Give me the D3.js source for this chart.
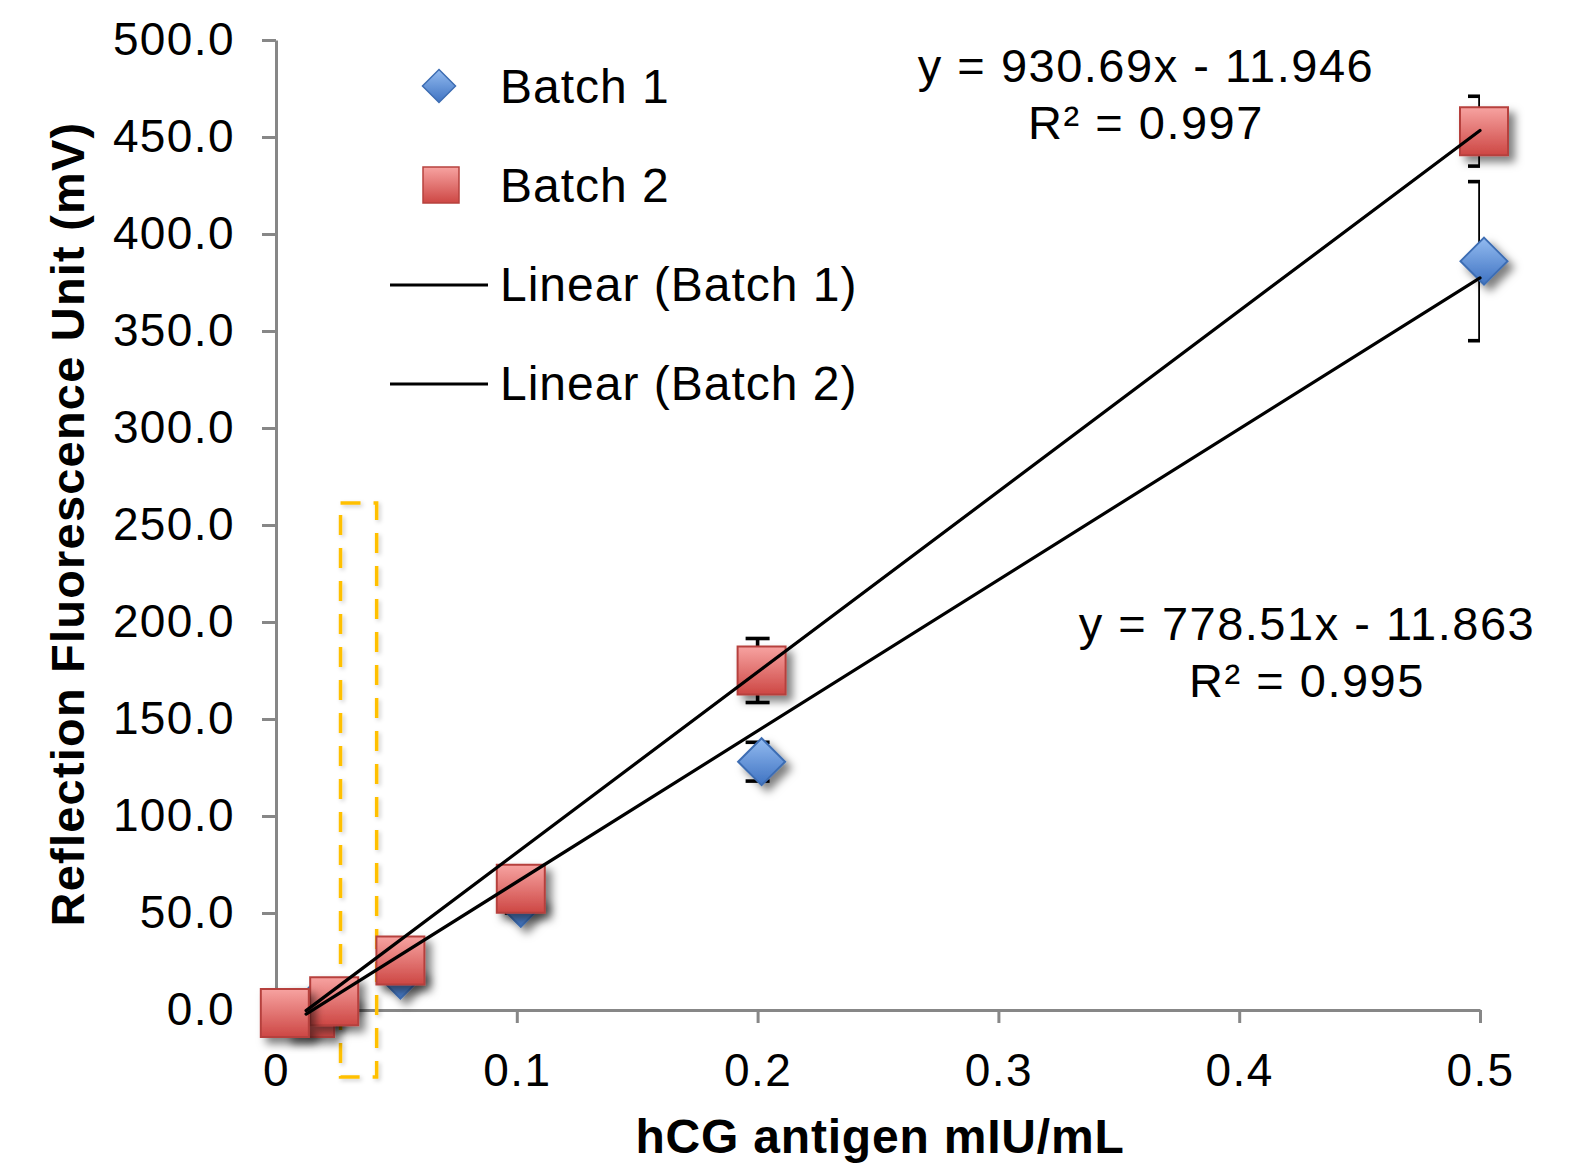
<!DOCTYPE html>
<html>
<head>
<meta charset="utf-8">
<script src="https://cdn.jsdelivr.net/npm/d3@7"></script>
<style>
  html, body { margin: 0; padding: 0; background: #fff; overflow: hidden; }
  svg { display: block; }
  svg text { font-family: "Liberation Sans", Arial, sans-serif; fill: #000; }
</style>
</head>
<body>
<svg width="1588" height="1165"></svg>
<script>
const concentrations = [0.0125, 0.0225, 0.05, 0.1, 0.2, 0.5];
const batch1 = [0, 4, 18, 55, 128, 386];
const batch1Err = [2, 2, 3, 5, 10, 41];
const batch2 = [-1.5, 4.5, 25.5, 62.5, 175, 453];
const batch2Err = [2, 2, 4, 6, 16.5, 18];
const zeroX = [0.002];
const zeroY = [-1.5];
const fitSlopes = [778.51, 930.69];
const fitIntercepts = [-11.863, -11.946];
const fitRange = [0.0125, 0.5];
const equationLines = [
  ["y = 778.51x - 11.863", "R² = 0.995"],
  ["y = 930.69x - 11.946", "R² = 0.997"]
];
const xTickValues = [0, 0.1, 0.2, 0.3, 0.4, 0.5];
const yTickValues = [0, 50, 100, 150, 200, 250, 300, 350, 400, 450, 500];
const legendLabels = ["Batch 1", "Batch 2", "Linear (Batch 1)", "Linear (Batch 2)"];
const highlightX = [0.0268, 0.0418];
const highlightY = [-34.5, 261.3];

const margin = { left: 276, right: 108, top: 40, bottom: 155 };
const svg = d3.select("svg");
const width = +svg.attr("width");
const height = +svg.attr("height");
const innerWidth = width - margin.left - margin.right;
const innerHeight = height - margin.top - margin.bottom;
// excel draws its markers a few px right of the true point
const markerNudge = 4;

svg.append("rect").attr("width", width).attr("height", height).attr("fill", "#fff");

const defs = svg.append("defs");
const shadow = defs.append("filter").attr("id", "shadow")
  .attr("x", "-50%").attr("y", "-50%").attr("width", "200%").attr("height", "200%");
shadow.append("feDropShadow")
  .attr("dx", 6).attr("dy", 6).attr("stdDeviation", 4)
  .attr("flood-color", "#000").attr("flood-opacity", 0.5);
const softShadow = defs.append("filter").attr("id", "soft-shadow")
  .attr("x", "-50%").attr("y", "-10%").attr("width", "200%").attr("height", "120%");
softShadow.append("feDropShadow")
  .attr("dx", 2).attr("dy", 2).attr("stdDeviation", 2)
  .attr("flood-color", "#000").attr("flood-opacity", 0.2);

const redGrad = defs.append("linearGradient").attr("id", "red-grad")
  .attr("x1", 0).attr("y1", 0).attr("x2", 0).attr("y2", 1);
redGrad.append("stop").attr("offset", "0%").attr("stop-color", "#F7A3A1");
redGrad.append("stop").attr("offset", "100%").attr("stop-color", "#CD4744");
const blueGrad = defs.append("linearGradient").attr("id", "blue-grad")
  .attr("x1", 0).attr("y1", 0).attr("x2", 0).attr("y2", 1);
blueGrad.append("stop").attr("offset", "0%").attr("stop-color", "#93BBF0");
blueGrad.append("stop").attr("offset", "100%").attr("stop-color", "#3F73C2");

defs.append("clipPath").attr("id", "plot-clip")
  .append("rect").attr("x", 0).attr("y", -margin.top).attr("width", innerWidth).attr("height", innerHeight + margin.top);

const diamondType = {
  draw(ctx, size) {
    const r = Math.sqrt(size / 2);
    ctx.moveTo(0, -r);
    ctx.lineTo(r, 0);
    ctx.lineTo(0, r);
    ctx.lineTo(-r, 0);
    ctx.closePath();
  }
};
const diamondPath = size => d3.symbol().type(diamondType).size(size)();
const squarePath = size => d3.symbol().type(d3.symbolSquare).size(size)();

const g = svg.append("g").attr("transform", `translate(${margin.left},${margin.top})`);

const xScale = d3.scaleLinear().domain([0, 0.5]).range([0, innerWidth]);
const yScale = d3.scaleLinear().domain([0, 500]).range([innerHeight, 0]);

const xAxis = d3.axisBottom(xScale)
  .tickValues(xTickValues)
  .tickFormat(d => (d === 0 ? "0" : d3.format(".1f")(d)))
  .tickSize(13)
  .tickSizeOuter(0)
  .tickPadding(30);
const yAxis = d3.axisLeft(yScale)
  .tickValues(yTickValues)
  .tickFormat(d3.format(".1f"))
  .tickSize(14)
  .tickSizeOuter(0)
  .tickPadding(27);

const styleAxis = sel => {
  sel.attr("font-family", null).attr("font-size", null);
  sel.selectAll("path, line").attr("stroke", "#878787").attr("stroke-width", 3);
  sel.selectAll("text")
    .attr("fill", "#000")
    .style("font-size", "46px")
    .attr("letter-spacing", 1.4);
};

const xAxisG = g.append("g").attr("transform", `translate(0,${innerHeight})`).call(xAxis);
const yAxisG = g.append("g").call(yAxis);
styleAxis(xAxisG);
styleAxis(yAxisG);

// dashed highlight box
g.append("rect")
  .attr("x", xScale(highlightX[0]))
  .attr("y", yScale(highlightY[1]))
  .attr("width", xScale(highlightX[1]) - xScale(highlightX[0]))
  .attr("height", yScale(highlightY[0]) - yScale(highlightY[1]))
  .attr("fill", "none")
  .attr("stroke", "#FFC000")
  .attr("stroke-width", 3.5)
  .attr("stroke-dasharray", "20,13")
  .attr("filter", "url(#soft-shadow)");

const series = [
  { name: "Batch 1", values: batch1, errors: batch1Err, path: diamondPath(1105), fill: "url(#blue-grad)", stroke: "#3D6DB3" },
  { name: "Batch 2", values: batch2, errors: batch2Err, path: squarePath(2304), fill: "url(#red-grad)", stroke: "#B6413E" }
];

const errG = g.append("g").attr("clip-path", "url(#plot-clip)");
series.forEach(s => {
  const pts = concentrations.map((x, i) => ({ x, y: s.values[i], e: s.errors[i] }));
  const eb = errG.selectAll(null).data(pts).enter().append("g")
    .attr("stroke", "#000").attr("stroke-width", 3.6).attr("fill", "none");
  eb.append("line")
    .attr("x1", d => xScale(d.x)).attr("x2", d => xScale(d.x))
    .attr("y1", d => yScale(d.y + d.e)).attr("y2", d => yScale(d.y - d.e));
  eb.append("line")
    .attr("x1", d => xScale(d.x) - 12).attr("x2", d => xScale(d.x) + 12)
    .attr("y1", d => yScale(d.y + d.e)).attr("y2", d => yScale(d.y + d.e));
  eb.append("line")
    .attr("x1", d => xScale(d.x) - 12).attr("x2", d => xScale(d.x) + 12)
    .attr("y1", d => yScale(d.y - d.e)).attr("y2", d => yScale(d.y - d.e));
});

series.forEach(s => {
  g.selectAll(null)
    .data(concentrations.map((x, i) => ({ x, y: s.values[i] })))
    .enter()
    .append("path")
    .attr("d", s.path)
    .attr("transform", d => `translate(${xScale(d.x) + markerNudge},${yScale(d.y)})`)
    .attr("fill", s.fill)
    .attr("stroke", s.stroke)
    .attr("stroke-width", 2)
    .attr("filter", "url(#shadow)");
});

g.selectAll(null)
  .data(zeroX.map((x, i) => ({ x, y: zeroY[i] })))
  .enter()
  .append("path")
  .attr("d", series[1].path)
  .attr("transform", d => `translate(${xScale(d.x) + markerNudge},${yScale(d.y)})`)
  .attr("fill", series[1].fill)
  .attr("stroke", series[1].stroke)
  .attr("stroke-width", 2)
  .attr("filter", "url(#shadow)");

const fitLine = d3.line().x(d => xScale(d[0])).y(d => yScale(d[1]));
fitSlopes.forEach((m, i) => {
  g.append("path")
    .datum(fitRange.map(x => [x, m * x + fitIntercepts[i]]))
    .attr("d", fitLine)
    .attr("fill", "none")
    .attr("stroke", "#000")
    .attr("stroke-width", 3.2)
    .attr("stroke-linecap", "round");
});

const eqPos = [{ x: 1307, y: 640 }, { x: 1146, y: 82 }];
equationLines.forEach((lines, i) => {
  lines.forEach((t, j) => {
    svg.append("text")
      .attr("x", eqPos[i].x)
      .attr("y", eqPos[i].y + j * 57)
      .attr("text-anchor", "middle")
      .attr("letter-spacing", 1.5)
      .style("font-size", "47px")
      .text(t);
  });
});

// legend
const legendG = svg.append("g");
const legendY = [86, 185, 284, 383];
legendLabels.forEach((label, i) => {
  const row = legendG.append("g").attr("transform", `translate(0,${legendY[i]})`);
  if (i === 0) {
    row.append("path").attr("d", diamondPath(545)).attr("transform", "translate(439,0)")
      .attr("fill", series[0].fill).attr("stroke", series[0].stroke).attr("stroke-width", 1.5);
  } else if (i === 1) {
    row.append("path").attr("d", squarePath(1296)).attr("transform", "translate(441,0)")
      .attr("fill", series[1].fill).attr("stroke", series[1].stroke).attr("stroke-width", 1.5);
  } else {
    row.append("line").attr("x1", 390).attr("x2", 488).attr("y1", 1).attr("y2", 1)
      .attr("stroke", "#000").attr("stroke-width", 3.2);
  }
  row.append("text")
    .attr("x", 500)
    .attr("y", 17)
    .attr("letter-spacing", 1)
    .style("font-size", "48px")
    .text(label);
});

svg.append("text")
  .attr("transform", "translate(84,524) rotate(-90)")
  .attr("text-anchor", "middle")
  .attr("font-weight", "bold")
  .attr("letter-spacing", 1.2)
  .style("font-size", "47px")
  .text("Reflection Fluorescence Unit (mV)");

svg.append("text")
  .attr("x", 880)
  .attr("y", 1153)
  .attr("text-anchor", "middle")
  .attr("font-weight", "bold")
  .attr("letter-spacing", 0.8)
  .style("font-size", "48px")
  .text("hCG antigen mIU/mL");
</script>
</body>
</html>
